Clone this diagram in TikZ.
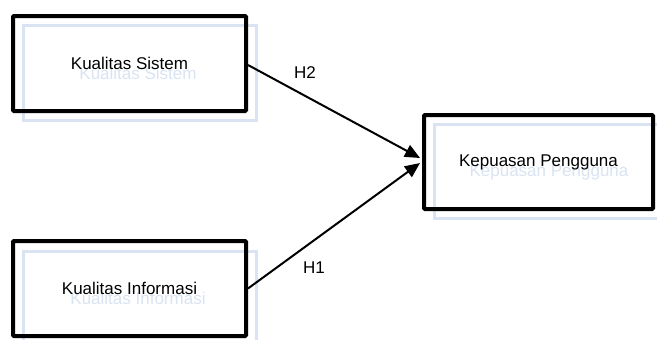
\documentclass[tikz,border=0pt]{standalone}
\usepackage{fontspec}
\setmainfont{Liberation Sans}
\usetikzlibrary{arrows.meta,calc}
\definecolor{shade}{HTML}{D9E3F1}
\tikzset{
  box/.style={draw=black, line width=4pt, rounded corners=1pt, inner sep=0pt},
  ghost/.style={draw=shade, line width=3pt, inner sep=0pt},
  label/.style={font=\fontsize{17}{20}\selectfont, text=black},
  ghostlabel/.style={font=\fontsize{17}{20}\selectfont, text=shade},
  link/.style={line width=2pt, -{Triangle[length=15pt,width=13pt]}}
}
\begin{document}
\begin{tikzpicture}[x=1pt,y=-1pt]
\useasboundingbox (0,0) rectangle (657,340);
% faint offset frames behind the boxes
\draw[ghost] (23,25) rectangle (256,120);
\draw[ghost] (434,124) rectangle (670,218);
\draw[ghost] (23,251) rectangle (256,350);
\node[ghostlabel] (ksg) at (138,73) {Kualitas Sistem};
\node[ghostlabel] (kpg) at (549,172) {Kepuasan Pengguna};
\node[ghostlabel] (kig) at (138,298) {Kualitas Informasi};
% main boxes
\node[box, minimum width=233pt, minimum height=95pt] (ks) at (129.5,63.5) {};
\node[box, minimum width=229pt, minimum height=94pt] (kp) at (538.5,162) {};
\node[box, minimum width=233pt, minimum height=95pt] (ki) at (129.5,288.5) {};
\node[label] (kst) at (ks.center) {Kualitas Sistem};
\node[label] (kpt) at (kp.center) {Kepuasan Pengguna};
\node[label] (kit) at (ki.center) {Kualitas Informasi};
% connectors
\coordinate (a1) at ($(kp.west)+(-2,-4)$);
\coordinate (a2) at ($(kp.west)+(-2,1)$);
\draw[link] ($(ks.east)+(0,1.5)$) -- (a1);
\draw[link] (ki.east) -- (a2);
\node[label] (h2) at (305,73) {H2};
\node[label] (h1) at (314,268) {H1};
\end{tikzpicture}
\end{document}
